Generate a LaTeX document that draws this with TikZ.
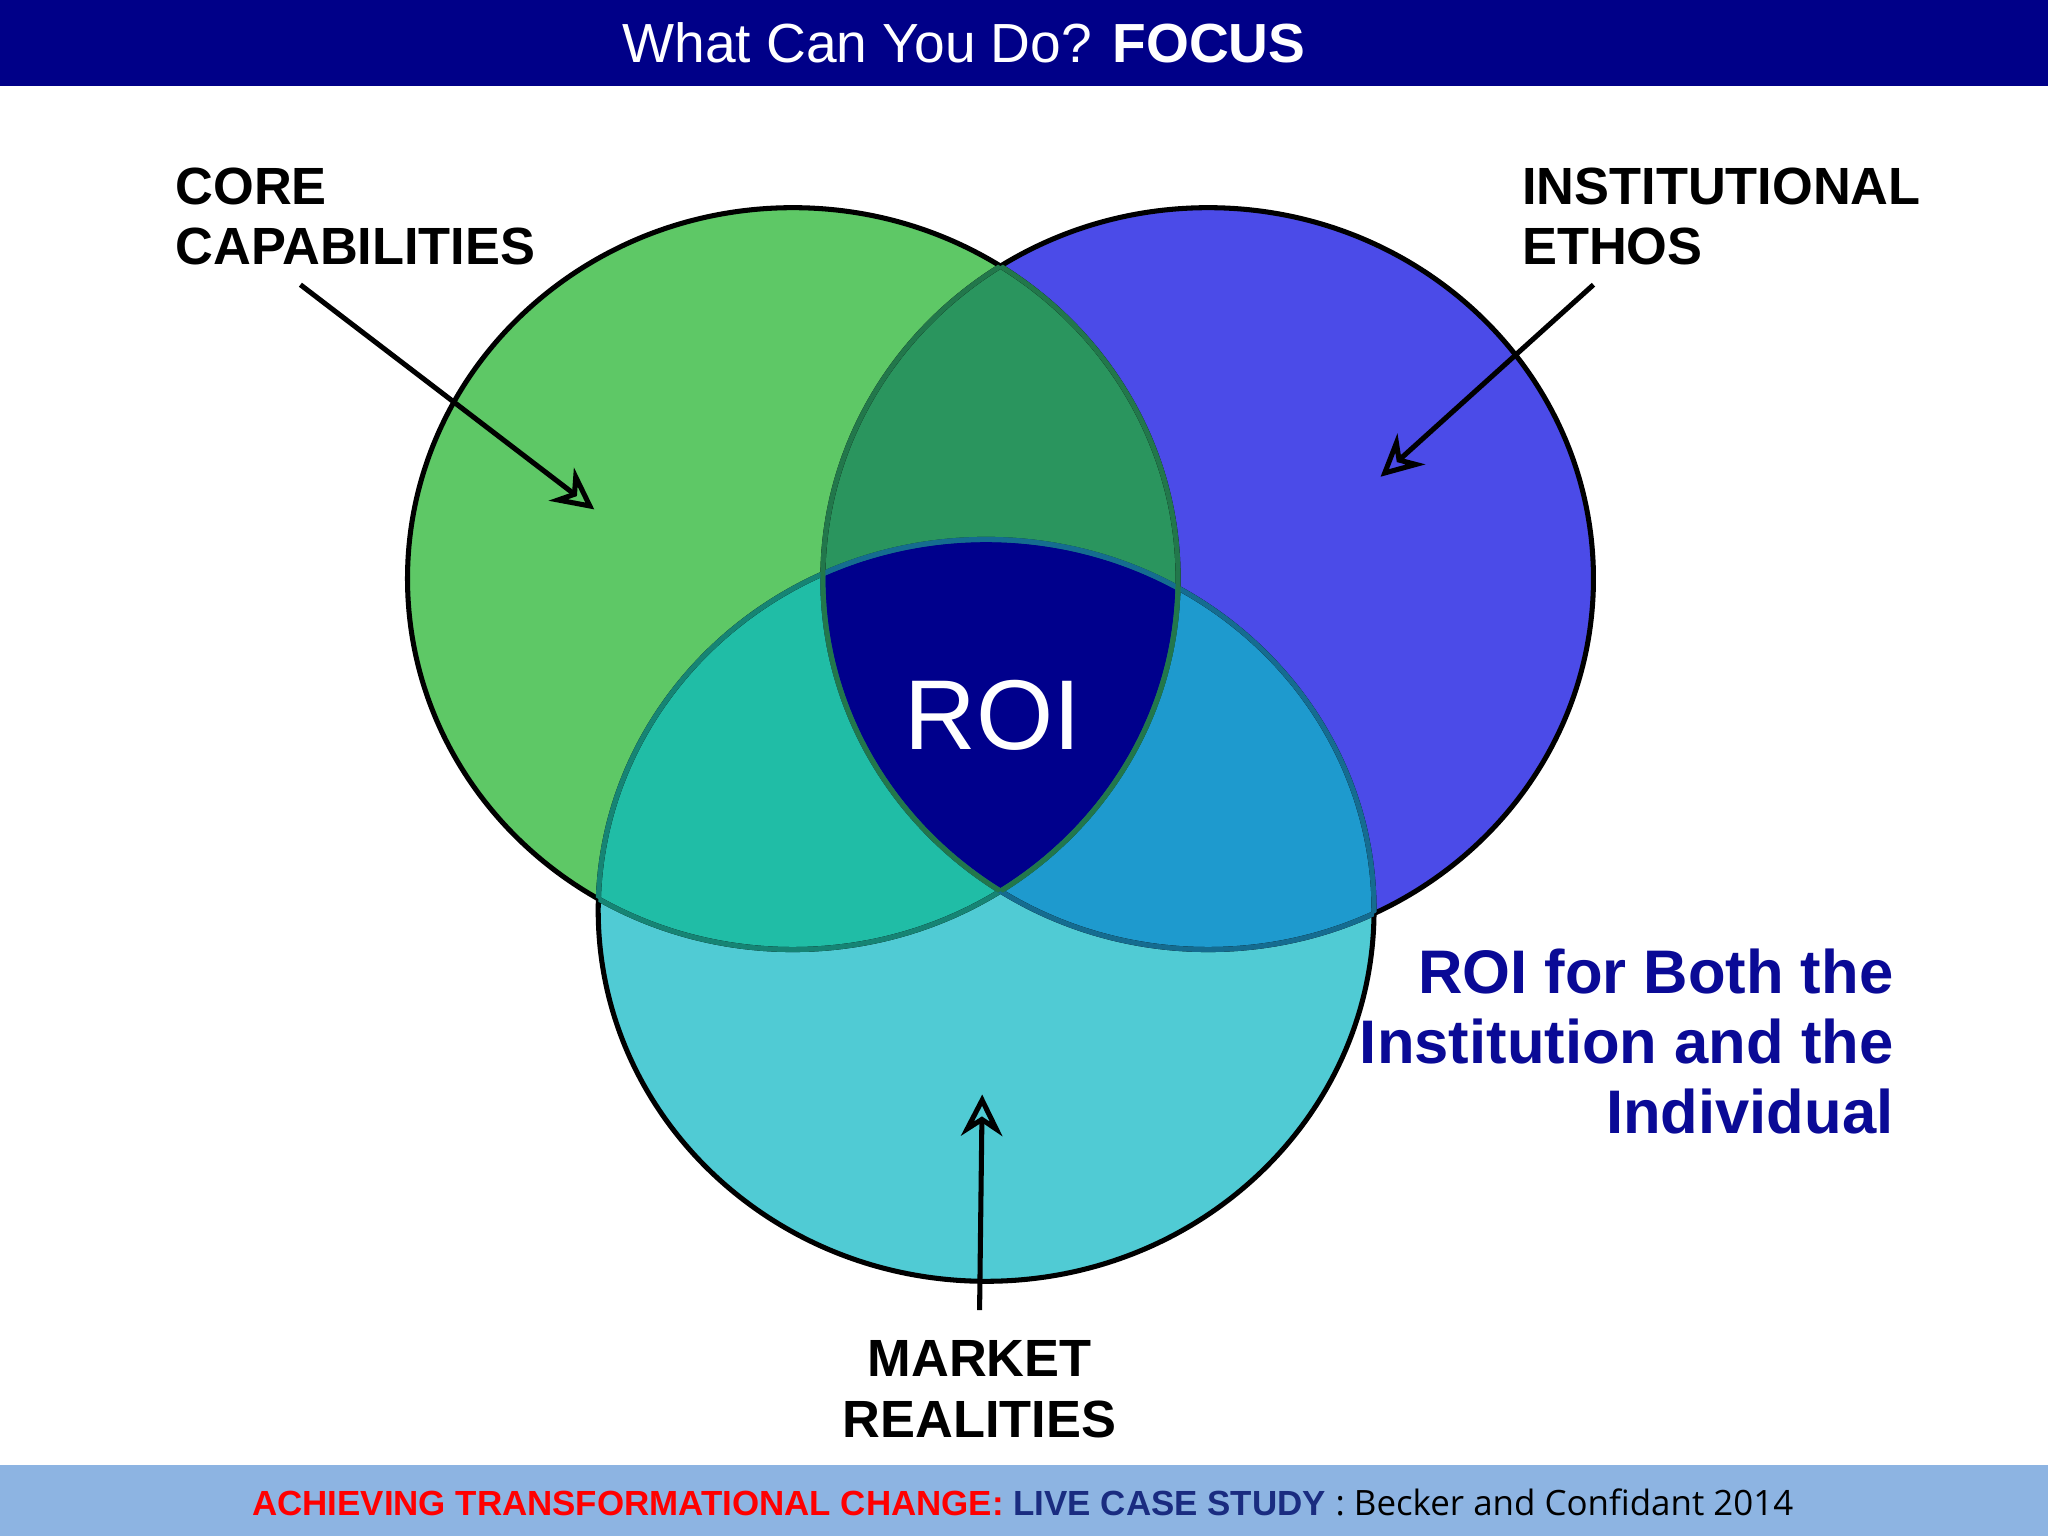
\documentclass[tikz,border=0pt]{standalone}
\usepackage{fontspec}
\setmainfont{Liberation Sans}
\newfontfamily\opensans{Open Sans}
\usetikzlibrary{arrows.meta}
\definecolor{hdr}{HTML}{000088}
\definecolor{ftr}{HTML}{8DB4E2}
\definecolor{cg}{HTML}{5EC866}
\definecolor{cb}{HTML}{4B4BE8}
\definecolor{ct}{HTML}{50CBD4}
\definecolor{cgb}{HTML}{2A955E}
\definecolor{cgt}{HTML}{20BDA6}
\definecolor{cbt}{HTML}{1E9ACE}
\definecolor{croi}{HTML}{00008C}
\definecolor{navy}{HTML}{0A0A96}
\definecolor{redt}{HTML}{FF0000}
\definecolor{ftblue}{HTML}{1A2C80}
\tikzset{lbl/.style={font=\bfseries\fontsize{11.4}{13.2}\selectfont,align=left,text=black},
 pointer/.style={line width=1.1pt,-{Stealth[length=9pt,width=9pt,open]}},
 ring/.style={draw=black,line width=1.1pt}}
\begin{document}
\begin{tikzpicture}[x=0.01cm,y=-0.01cm]
\useasboundingbox (0,0) rectangle (1568,1176);
\fill[white] (0,0) rectangle (1568,1176);
\fill[hdr] (0,0) rectangle (1568,66);
\node (title) at (738,33) {\color{white}\fontsize{12}{14}\selectfont What Can You Do? \textbf{FOCUS}};
\fill[ftr] (0,1122) rectangle (1568,1176);
\node (foot) at (783,1150) {\fontsize{7.6}{9}\selectfont\textbf{\color{redt}ACHIEVING TRANSFORMATIONAL CHANGE: \color{ftblue}LIVE CASE STUDY} {\opensans : Becker and Confidant 2014}};
% circles fills
\def\G{(607,443) ellipse [x radius=295,y radius=284]}
\def\B{(925,443) ellipse [x radius=295,y radius=284]}
\def\T{(755,697) ellipse [x radius=297,y radius=284]}
\fill[cg] \G; \fill[cb] \B; \fill[ct] \T;
\begin{scope}\clip \G; \fill[cgb] \B; \fill[cgt] \T; \end{scope}
\begin{scope}\clip \B; \fill[cbt] \T; \end{scope}
\begin{scope}\clip \G; \clip \B; \fill[croi] \T; \end{scope}
% outlines (inner parts faint)
\draw[ring] \G; \draw[ring] \B; \draw[ring] \T;
\begin{scope}\clip \G; \clip \B; \clip \T;
\fill[croi] (755,697) ellipse [x radius=300,y radius=290]; \end{scope}
\begin{scope}\clip \G; \draw[draw=cgt!70!black,line width=1.1pt] \T; \end{scope}
\begin{scope}\clip \B; \draw[draw=cbt!70!black,line width=1.1pt] \T; \end{scope}
\begin{scope}\clip \T; \draw[draw=cgt!70!black,line width=1.1pt] \G; \draw[draw=cbt!70!black,line width=1.1pt] \B; \end{scope}
\begin{scope}\clip \G; \draw[draw=cgb!80!black,line width=1.1pt] \B; \end{scope}
\begin{scope}\clip \B; \draw[draw=cgb!80!black,line width=1.1pt] \G; \end{scope}
\node (roi) at (760,548) {\color{white}\fontsize{21.6}{24}\selectfont ROI};
% labels
\node[lbl,anchor=north west] (core) at (122,116) {CORE\\CAPABILITIES};
\node[lbl,anchor=north west] (ethos) at (1153,116) {INSTITUTIONAL\\ETHOS};
\node[lbl,align=center,anchor=north] (mkt) at (750,1014) {MARKET\\REALITIES};
\node[font=\bfseries\fontsize{13.4}{15.2}\selectfont,align=right,text=navy,anchor=north east] (both) at (1462,714) {ROI for Both the\\Institution and the\\Individual};
\coordinate (c1) at (230,218); \coordinate (c2) at (455,390);
\coordinate (e1) at (1220,218); \coordinate (e2) at (1057,365);
\coordinate (m1) at (750,1003); \coordinate (m2) at (752,838);
\draw[pointer] (c1) -- (c2);
\draw[pointer] (e1) -- (e2);
\draw[pointer] (m1) -- (m2);
\end{tikzpicture}
\end{document}
